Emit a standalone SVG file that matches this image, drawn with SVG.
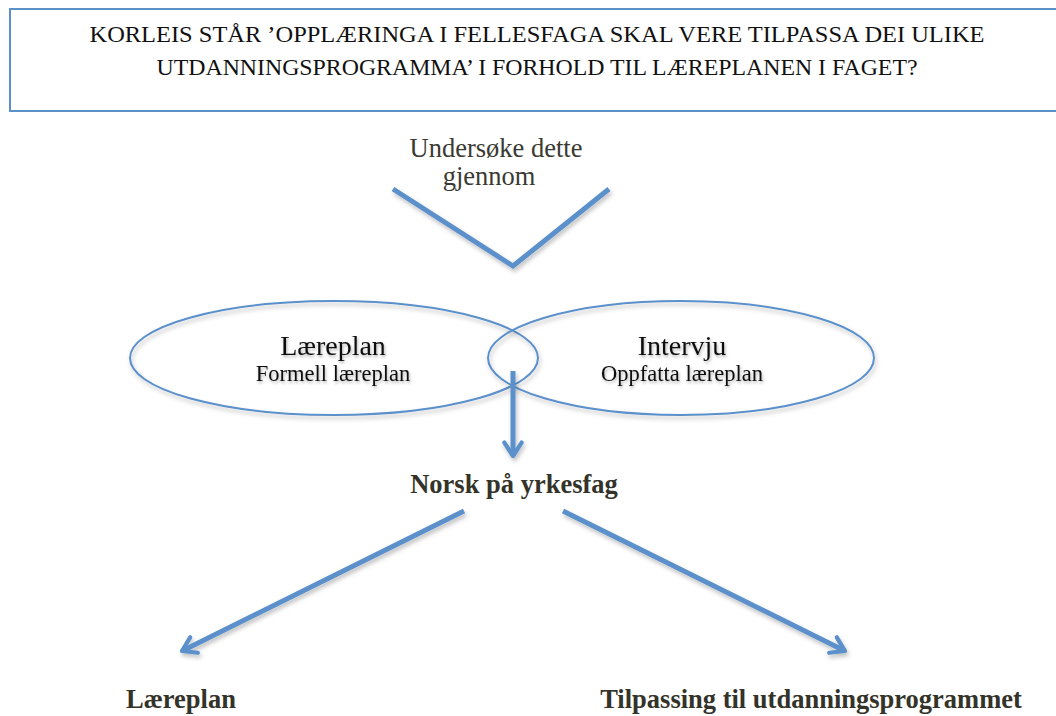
<svg xmlns="http://www.w3.org/2000/svg" width="1056" height="716" viewBox="0 0 1056 716">
  <defs>
    <filter id="shadow" x="-20%" y="-20%" width="140%" height="160%">
      <feDropShadow dx="1.5" dy="3" stdDeviation="2" flood-color="#000" flood-opacity="0.25"/>
    </filter>
    <filter id="textShadow" x="-10%" y="-30%" width="120%" height="180%">
      <feDropShadow dx="1" dy="2" stdDeviation="1.5" flood-color="#000" flood-opacity="0.3"/>
    </filter>
    <marker id="head" viewBox="0 0 12 12" refX="9" refY="6" markerWidth="4.6" markerHeight="4.6" markerUnits="strokeWidth" orient="auto">
      <path d="M2,1.5 L9,6 L2,10.5" fill="none" stroke="#5b90cb" stroke-width="2.2" stroke-linecap="round" stroke-linejoin="round"/>
    </marker>
    <style>
      .title { font-family: "Liberation Serif", serif; font-size: 24px; fill: #111; }
      .lead { font-family: "Liberation Serif", serif; font-size: 26.5px; fill: #3a3a32; }
      .big { font-family: "Liberation Serif", serif; font-size: 28px; fill: #111; }
      .small { font-family: "Liberation Serif", serif; font-size: 22.5px; fill: #111; }
      .bold { font-family: "Liberation Serif", serif; font-size: 26.5px; font-weight: bold; fill: #33332a; }
      .ring { fill: none; stroke: #5b90cb; stroke-width: 2; }
      .arm { fill: none; stroke: #5b90cb; stroke-width: 5; stroke-linecap: butt; }
    </style>
  </defs>

  <rect width="1056" height="716" fill="#fff"/>

  <!-- question box -->
  <g id="question">
    <rect x="10" y="9" width="1060" height="102" fill="#fff" stroke="#5b90cb" stroke-width="2"/>
    <text class="title" x="537" y="42" text-anchor="middle" textLength="895" lengthAdjust="spacingAndGlyphs">KORLEIS STÅR ’OPPLÆRINGA I FELLESFAGA SKAL VERE TILPASSA DEI ULIKE</text>
    <text class="title" x="537" y="75" text-anchor="middle" textLength="761" lengthAdjust="spacingAndGlyphs">UTDANNINGSPROGRAMMA’ I FORHOLD TIL LÆREPLANEN I FAGET?</text>
  </g>

  <g id="intro">
    <text class="lead" x="496" y="157" text-anchor="middle">Undersøke dette</text>
    <text class="lead" x="489" y="185" text-anchor="middle">gjennom</text>
  </g>

  <!-- ellipses -->
  <g id="laereplan" filter="url(#shadow)">
    <ellipse class="ring" cx="334" cy="358" rx="204" ry="57"/>
  </g>
  <g id="intervju" filter="url(#shadow)">
    <ellipse class="ring" cx="681" cy="358" rx="193" ry="57"/>
  </g>
  <g id="laereplan-text" filter="url(#textShadow)">
    <text class="big" x="333" y="355" text-anchor="middle">Læreplan</text>
    <text class="small" x="333" y="381" text-anchor="middle">Formell læreplan</text>
  </g>
  <g id="intervju-text" filter="url(#textShadow)">
    <text class="big" x="682" y="355" text-anchor="middle">Intervju</text>
    <text class="small" x="682" y="381" text-anchor="middle">Oppfatta læreplan</text>
  </g>

  <g id="norsk">
    <text class="bold" x="514" y="493" text-anchor="middle">Norsk på yrkesfag</text>
  </g>
  <g id="result-laereplan">
    <text class="bold" x="181" y="708" text-anchor="middle">Læreplan</text>
  </g>
  <g id="result-tilpassing">
    <text class="bold" x="811" y="708" text-anchor="middle">Tilpassing til utdanningsprogrammet</text>
  </g>

  <!-- connectors -->
  <g id="connectors" filter="url(#shadow)">
    <path class="arm" d="M393,189 L513,266 L609,189" stroke-linejoin="miter"/>
    <path class="arm" d="M513,371 L513,456" marker-end="url(#head)"/>
    <path class="arm" d="M464,511 L182,651" marker-end="url(#head)"/>
    <path class="arm" d="M563,511 L845,651" marker-end="url(#head)"/>
  </g>
</svg>
